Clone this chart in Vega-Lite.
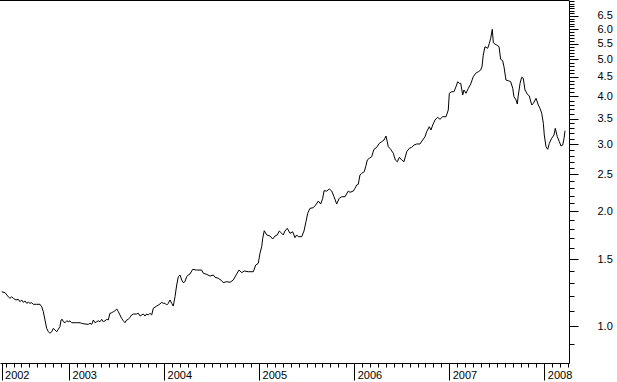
{
  "$schema": "https://vega.github.io/schema/vega-lite/v6.json",
  "width": 569,
  "height": 363,
  "autosize": {"type": "none"},
  "padding": {"left": 0, "top": 0, "right": 48, "bottom": 19},
  "background": "white",
  "config": {"view": {"stroke": null}},
  "data": {"values": [
    {"t":2002.292,"v":1.232},{"t":2002.327,"v":1.225},{"t":2002.361,"v":1.195},{"t":2002.379,"v":1.184},{"t":2002.397,"v":1.195},{"t":2002.414,"v":1.184},{"t":2002.442,"v":1.172},{"t":2002.467,"v":1.177},{"t":2002.484,"v":1.160},{"t":2002.502,"v":1.172},{"t":2002.519,"v":1.156},{"t":2002.537,"v":1.165},{"t":2002.555,"v":1.149},{"t":2002.572,"v":1.156},{"t":2002.590,"v":1.149},{"t":2002.608,"v":1.153},{"t":2002.624,"v":1.142},{"t":2002.660,"v":1.142},{"t":2002.695,"v":1.142},{"t":2002.713,"v":1.125},{"t":2002.730,"v":1.092},{"t":2002.747,"v":1.039},{"t":2002.765,"v":0.988},{"t":2002.782,"v":0.968},{"t":2002.800,"v":0.959},{"t":2002.818,"v":0.968},{"t":2002.835,"v":0.988},{"t":2002.853,"v":0.978},{"t":2002.871,"v":0.968},{"t":2002.887,"v":0.982},{"t":2002.905,"v":0.998},{"t":2002.916,"v":1.039},{"t":2002.929,"v":1.043},{"t":2002.940,"v":1.028},{"t":2002.958,"v":1.022},{"t":2002.976,"v":1.034},{"t":2002.993,"v":1.028},{"t":2003.010,"v":1.033},{"t":2003.028,"v":1.022},{"t":2003.081,"v":1.022},{"t":2003.116,"v":1.022},{"t":2003.133,"v":1.018},{"t":2003.168,"v":1.014},{"t":2003.203,"v":1.012},{"t":2003.221,"v":1.018},{"t":2003.239,"v":1.012},{"t":2003.256,"v":1.039},{"t":2003.273,"v":1.022},{"t":2003.291,"v":1.028},{"t":2003.308,"v":1.034},{"t":2003.326,"v":1.028},{"t":2003.344,"v":1.043},{"t":2003.361,"v":1.028},{"t":2003.379,"v":1.034},{"t":2003.396,"v":1.043},{"t":2003.413,"v":1.039},{"t":2003.431,"v":1.082},{"t":2003.449,"v":1.085},{"t":2003.466,"v":1.092},{"t":2003.484,"v":1.099},{"t":2003.502,"v":1.110},{"t":2003.519,"v":1.092},{"t":2003.536,"v":1.071},{"t":2003.554,"v":1.049},{"t":2003.571,"v":1.034},{"t":2003.589,"v":1.022},{"t":2003.607,"v":1.039},{"t":2003.624,"v":1.043},{"t":2003.642,"v":1.056},{"t":2003.659,"v":1.071},{"t":2003.676,"v":1.077},{"t":2003.712,"v":1.077},{"t":2003.729,"v":1.082},{"t":2003.747,"v":1.064},{"t":2003.765,"v":1.071},{"t":2003.782,"v":1.077},{"t":2003.799,"v":1.064},{"t":2003.817,"v":1.077},{"t":2003.834,"v":1.071},{"t":2003.852,"v":1.082},{"t":2003.870,"v":1.071},{"t":2003.887,"v":1.115},{"t":2003.922,"v":1.130},{"t":2003.939,"v":1.137},{"t":2003.957,"v":1.144},{"t":2003.975,"v":1.156},{"t":2003.992,"v":1.149},{"t":2004.010,"v":1.149},{"t":2004.028,"v":1.137},{"t":2004.045,"v":1.149},{"t":2004.062,"v":1.172},{"t":2004.080,"v":1.149},{"t":2004.097,"v":1.130},{"t":2004.115,"v":1.195},{"t":2004.133,"v":1.283},{"t":2004.150,"v":1.349},{"t":2004.168,"v":1.363},{"t":2004.186,"v":1.322},{"t":2004.202,"v":1.301},{"t":2004.220,"v":1.309},{"t":2004.238,"v":1.349},{"t":2004.255,"v":1.363},{"t":2004.273,"v":1.371},{"t":2004.301,"v":1.410},{"t":2004.343,"v":1.404},{"t":2004.396,"v":1.404},{"t":2004.413,"v":1.377},{"t":2004.449,"v":1.368},{"t":2004.483,"v":1.354},{"t":2004.518,"v":1.363},{"t":2004.536,"v":1.344},{"t":2004.571,"v":1.336},{"t":2004.606,"v":1.317},{"t":2004.623,"v":1.301},{"t":2004.659,"v":1.309},{"t":2004.694,"v":1.304},{"t":2004.728,"v":1.322},{"t":2004.764,"v":1.371},{"t":2004.788,"v":1.404},{"t":2004.817,"v":1.382},{"t":2004.844,"v":1.396},{"t":2004.886,"v":1.390},{"t":2004.939,"v":1.390},{"t":2004.964,"v":1.447},{"t":2004.991,"v":1.462},{"t":2005.009,"v":1.553},{"t":2005.027,"v":1.616},{"t":2005.038,"v":1.700},{"t":2005.054,"v":1.780},{"t":2005.080,"v":1.735},{"t":2005.114,"v":1.724},{"t":2005.143,"v":1.693},{"t":2005.167,"v":1.724},{"t":2005.191,"v":1.735},{"t":2005.212,"v":1.777},{"t":2005.238,"v":1.752},{"t":2005.254,"v":1.735},{"t":2005.272,"v":1.777},{"t":2005.296,"v":1.806},{"t":2005.325,"v":1.752},{"t":2005.353,"v":1.769},{"t":2005.377,"v":1.707},{"t":2005.395,"v":1.735},{"t":2005.412,"v":1.717},{"t":2005.448,"v":1.717},{"t":2005.472,"v":1.777},{"t":2005.493,"v":1.879},{"t":2005.511,"v":1.977},{"t":2005.535,"v":2.037},{"t":2005.570,"v":2.045},{"t":2005.595,"v":2.078},{"t":2005.623,"v":2.129},{"t":2005.648,"v":2.091},{"t":2005.669,"v":2.164},{"t":2005.683,"v":2.266},{"t":2005.711,"v":2.261},{"t":2005.738,"v":2.289},{"t":2005.764,"v":2.261},{"t":2005.788,"v":2.185},{"t":2005.816,"v":2.091},{"t":2005.843,"v":2.164},{"t":2005.869,"v":2.185},{"t":2005.903,"v":2.185},{"t":2005.938,"v":2.261},{"t":2005.956,"v":2.244},{"t":2005.991,"v":2.261},{"t":2006.009,"v":2.299},{"t":2006.027,"v":2.345},{"t":2006.043,"v":2.355},{"t":2006.061,"v":2.491},{"t":2006.079,"v":2.516},{"t":2006.106,"v":2.541},{"t":2006.124,"v":2.634},{"t":2006.138,"v":2.727},{"t":2006.159,"v":2.755},{"t":2006.184,"v":2.781},{"t":2006.208,"v":2.908},{"t":2006.237,"v":2.943},{"t":2006.264,"v":3.015},{"t":2006.290,"v":3.045},{"t":2006.314,"v":3.076},{"t":2006.335,"v":3.151},{"t":2006.359,"v":2.954},{"t":2006.384,"v":2.908},{"t":2006.412,"v":2.839},{"t":2006.433,"v":2.727},{"t":2006.454,"v":2.699},{"t":2006.475,"v":2.771},{"t":2006.500,"v":2.727},{"t":2006.524,"v":2.699},{"t":2006.553,"v":2.867},{"t":2006.580,"v":2.926},{"t":2006.605,"v":2.943},{"t":2006.630,"v":2.985},{"t":2006.658,"v":3.003},{"t":2006.692,"v":3.003},{"t":2006.721,"v":3.076},{"t":2006.745,"v":3.138},{"t":2006.763,"v":3.234},{"t":2006.790,"v":3.333},{"t":2006.808,"v":3.268},{"t":2006.826,"v":3.367},{"t":2006.850,"v":3.470},{"t":2006.879,"v":3.527},{"t":2006.903,"v":3.485},{"t":2006.931,"v":3.540},{"t":2006.966,"v":3.540},{"t":2006.990,"v":3.686},{"t":2007.001,"v":4.077},{"t":2007.026,"v":4.117},{"t":2007.050,"v":4.117},{"t":2007.071,"v":4.242},{"t":2007.089,"v":4.372},{"t":2007.106,"v":4.330},{"t":2007.121,"v":4.330},{"t":2007.142,"v":4.036},{"t":2007.155,"v":4.159},{"t":2007.176,"v":4.077},{"t":2007.201,"v":4.202},{"t":2007.226,"v":4.312},{"t":2007.253,"v":4.506},{"t":2007.278,"v":4.599},{"t":2007.306,"v":4.644},{"t":2007.331,"v":4.692},{"t":2007.345,"v":4.786},{"t":2007.358,"v":5.136},{"t":2007.376,"v":5.400},{"t":2007.405,"v":5.348},{"t":2007.422,"v":5.512},{"t":2007.436,"v":5.680},{"t":2007.453,"v":5.997},{"t":2007.464,"v":5.531},{"t":2007.481,"v":5.488},{"t":2007.499,"v":5.455},{"t":2007.524,"v":5.400},{"t":2007.541,"v":5.005},{"t":2007.562,"v":4.963},{"t":2007.576,"v":4.786},{"t":2007.597,"v":4.417},{"t":2007.622,"v":4.398},{"t":2007.647,"v":4.372},{"t":2007.668,"v":4.202},{"t":2007.681,"v":3.994},{"t":2007.703,"v":3.916},{"t":2007.716,"v":3.822},{"t":2007.727,"v":4.036},{"t":2007.745,"v":4.330},{"t":2007.762,"v":4.490},{"t":2007.779,"v":4.463},{"t":2007.797,"v":4.159},{"t":2007.821,"v":4.060},{"t":2007.842,"v":4.011},{"t":2007.868,"v":3.799},{"t":2007.885,"v":3.838},{"t":2007.913,"v":3.956},{"t":2007.937,"v":3.799},{"t":2007.955,"v":3.724},{"t":2007.973,"v":3.614},{"t":2007.990,"v":3.402},{"t":2008.000,"v":3.170},{"t":2008.018,"v":2.954},{"t":2008.036,"v":2.908},{"t":2008.053,"v":3.015},{"t":2008.078,"v":3.108},{"t":2008.102,"v":3.170},{"t":2008.116,"v":3.301},{"t":2008.137,"v":3.138},{"t":2008.158,"v":3.045},{"t":2008.176,"v":2.967},{"t":2008.194,"v":2.985},{"t":2008.208,"v":3.108},{"t":2008.218,"v":3.253}
  ]},
  "layer": [
    {
      "mark": {"type": "line", "color": "black", "strokeWidth": 1},
      "encoding": {
        "x": {
          "field": "t", "type": "quantitative",
          "scale": {"domain": [2002.274, 2008.26], "nice": false, "zero": false},
          "axis": {
            "title": null, "grid": false,
            "values": [2002.29,2002.3333,2002.4167,2002.5,2002.5833,2002.6667,2002.75,2002.8333,2002.9167,
              2003,2003.0833,2003.1667,2003.25,2003.3333,2003.4167,2003.5,2003.5833,2003.6667,2003.75,2003.8333,2003.9167,
              2004,2004.0833,2004.1667,2004.25,2004.3333,2004.4167,2004.5,2004.5833,2004.6667,2004.75,2004.8333,2004.9167,
              2005,2005.0833,2005.1667,2005.25,2005.3333,2005.4167,2005.5,2005.5833,2005.6667,2005.75,2005.8333,2005.9167,
              2006,2006.0833,2006.1667,2006.25,2006.3333,2006.4167,2006.5,2006.5833,2006.6667,2006.75,2006.8333,2006.9167,
              2007,2007.0833,2007.1667,2007.25,2007.3333,2007.4167,2007.5,2007.5833,2007.6667,2007.75,2007.8333,2007.9167,
              2008,2008.0833,2008.1667,2008.25],
            "domainColor": "black", "domainWidth": 1,
            "tickColor": "black", "tickWidth": 1,
            "tickSize": {"condition": {"test": "abs(datum.value - round(datum.value)) < 0.001 || datum.value < 2002.3", "value": 17}, "value": 4},
            "labelExpr": "datum.value < 2002.3 ? '2002' : (abs(datum.value - round(datum.value)) < 0.001 ? toString(round(datum.value)) : '')",
            "labelAlign": "left", "labelBaseline": "top",
            "labelPadding": -11, "labelOffset": 3,
            "labelFont": "Liberation Sans", "labelFontSize": 11, "labelColor": "black",
            "labelOverlap": false, "labelFlush": false, "labelBound": false
          }
        },
        "y": {
          "field": "v", "type": "quantitative",
          "scale": {"type": "log", "domain": [0.8015, 7.157], "nice": false, "zero": false},
          "axis": {
            "orient": "right", "title": null, "grid": false,
            "values": [0.9,1,1.1,1.2,1.3,1.4,1.5,1.6,1.7,1.8,1.9,2,2.1,2.2,2.3,2.4,2.5,2.6,2.7,2.8,2.9,3,3.1,3.2,3.3,3.4,3.5,3.6,3.7,3.8,3.9,4,4.1,4.2,4.3,4.4,4.5,4.6,4.7,4.8,4.9,5,5.1,5.2,5.3,5.4,5.5,5.6,5.7,5.8,5.9,6,6.1,6.2,6.3,6.4,6.5,6.6,6.7,6.8,6.9,7,7.1],
            "domainColor": "black", "domainWidth": 1,
            "tickColor": "black", "tickWidth": 1,
            "tickSize": {"condition": {"test": "abs(datum.value*2 - round(datum.value*2)) < 0.01 && datum.value > 0.99 && datum.value < 6.51", "value": 9}, "value": 5},
            "labelExpr": "(abs(datum.value*2 - round(datum.value*2)) < 0.01 && datum.value > 0.99 && datum.value < 6.51) ? format(datum.value, '.1f') : ''",
            "labelAlign": "left", "labelBaseline": "middle",
            "labelPadding": 19,
            "labelFont": "Liberation Sans", "labelFontSize": 11, "labelColor": "black",
            "labelOverlap": false, "labelFlush": false, "labelBound": false
          }
        }
      }
    },
    {
      "mark": {"type": "rule", "color": "black", "strokeWidth": 1, "yOffset": 0.5},
      "encoding": {"y": {"datum": 7.157, "type": "quantitative"}}
    }
  ]
}
